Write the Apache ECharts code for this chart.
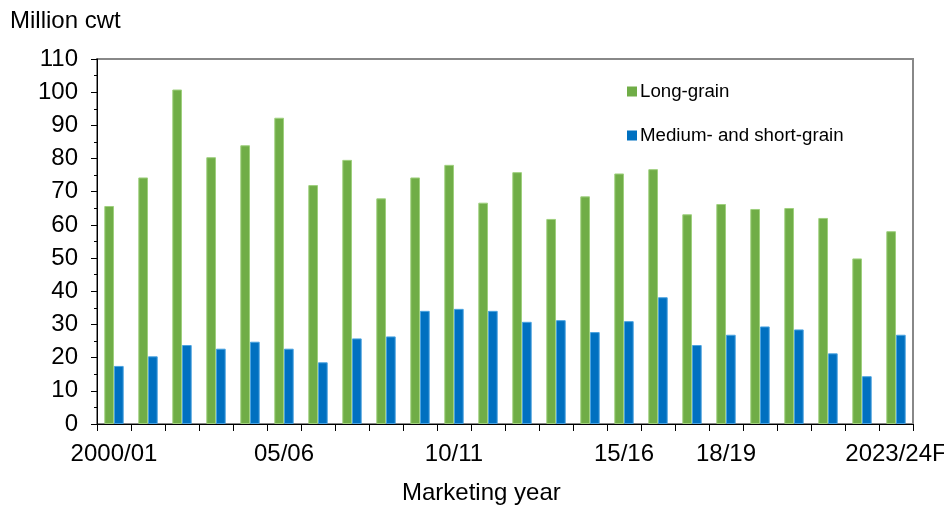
<!DOCTYPE html>
<html>
<head>
<meta charset="utf-8">
<script src="https://cdn.jsdelivr.net/npm/echarts@6/dist/echarts.min.js"></script>
<style>
html,body{margin:0;padding:0;background:#fff;}
#chart{width:944px;height:510px;}
</style>
</head>
<body>
<div id="chart"></div>
<script>
// ---- data ----
var years = ["2000/01","01/02","02/03","03/04","04/05","05/06","06/07","07/08","08/09","09/10",
             "10/11","11/12","12/13","13/14","14/15","15/16","16/17","17/18","18/19","19/20",
             "20/21","21/22","22/23","2023/24F"];
var tickLabels = ["2000/01","","","","","05/06","","","","",
                  "10/11","","","","","15/16","","","18/19","",
                  "","","","2023/24F"];
var longGrain = [65.7,74.3,100.8,80.4,84.0,92.3,72.0,79.6,68.0,74.3,
                 78.1,66.7,75.9,61.8,68.6,75.5,76.8,63.2,66.3,64.8,
                 65.1,62.1,49.9,58.1];
var mediumShort = [17.5,20.4,23.8,22.7,24.8,22.7,18.6,25.8,26.4,34.1,
                   34.7,34.1,30.8,31.3,27.7,31.0,38.2,23.8,26.9,29.4,
                   28.5,21.3,14.4,26.9];
var yTicks = [0,10,20,30,40,50,60,70,80,90,100,110];

var FONT = '"Liberation Sans", Arial, sans-serif';
var chart = echarts.init(document.getElementById('chart'), null, {renderer:'canvas'});
chart.setOption({
  animation:false,
  textStyle:{fontFamily:FONT},
  title:{text:'Million cwt', left:5, top:4,
    textStyle:{fontFamily:FONT, fontSize:24, fontWeight:'normal', color:'#000'}},
  legend:{
    left:622, top:77, orient:'vertical', itemGap:25,
    itemWidth:10, itemHeight:10, icon:'rect',
    itemStyle:{borderWidth:0},
    textStyle:{fontFamily:FONT, fontSize:18.7, color:'#000', padding:[0,0,0,-2]},
    data:['Long-grain','Medium- and short-grain']
  },
  graphic:[{type:'text', left:402, top:481,
    style:{text:'Marketing year', font:'24px "Liberation Sans", Arial, sans-serif', fill:'#000'}}],
  grid:{left:97, right:31, top:59, bottom:86, show:true, borderColor:'#888', borderWidth:2,
        containLabel:false, outerBoundsMode:'none'},
  xAxis:{
    type:'category', data:years,
    axisLine:{show:true, lineStyle:{color:'#000', width:1}},
    axisTick:{show:true, interval:0, length:7, lineStyle:{color:'#000'}},
    axisLabel:{interval:0, margin:18, fontFamily:FONT, fontSize:24, color:'#000',
      formatter:function(v, i){ return tickLabels[i]; }},
    splitLine:{show:false}
  },
  yAxis:{
    type:'value', min:yTicks[0], max:yTicks[yTicks.length-1], interval:10,
    axisLine:{show:true, lineStyle:{color:'#000', width:1}},
    axisTick:{show:true, length:6, inside:false, lineStyle:{color:'#000'}},
    minorTick:{show:true, splitNumber:2, length:3, lineStyle:{color:'#000'}},
    axisLabel:{margin:19, fontFamily:FONT, fontSize:24, color:'#000'},
    splitLine:{show:false}
  },
  series:[
    {name:'Long-grain', type:'bar', data:longGrain, barGap:'0%', barCategoryGap:'43%',
     itemStyle:{color:'#70AD47', borderColor:'#9fd07e', borderWidth:1}},
    {name:'Medium- and short-grain', type:'bar', data:mediumShort,
     itemStyle:{color:'#0070C0', borderColor:'#4aa3e0', borderWidth:1}}
  ]
});
</script>
</body>
</html>
